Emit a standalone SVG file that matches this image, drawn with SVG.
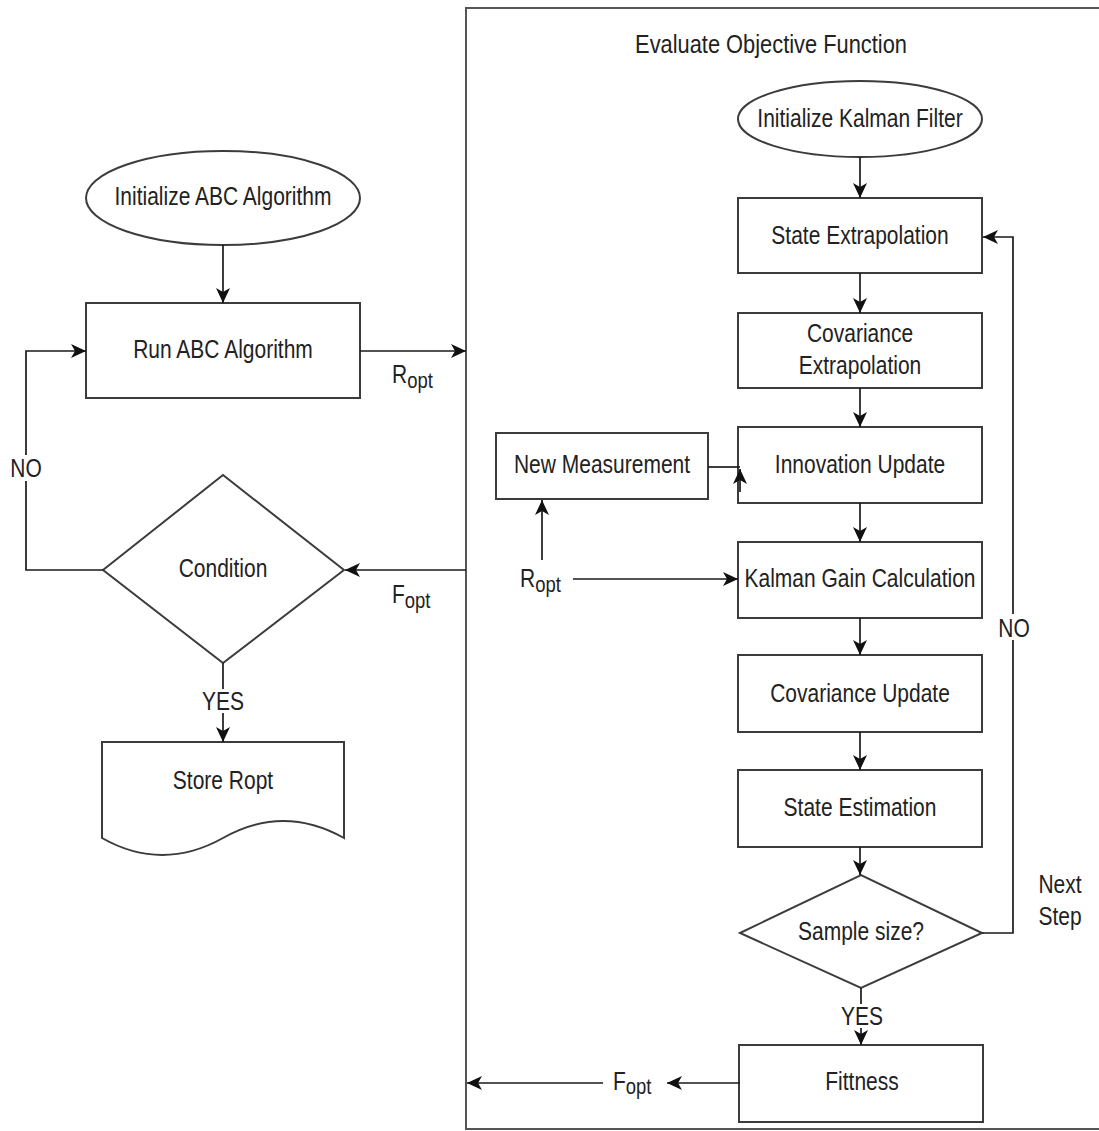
<svg xmlns="http://www.w3.org/2000/svg" width="1099" height="1131" viewBox="0 0 1099 1131">
<style>
.box{fill:#fff;stroke:#3c3c3c;stroke-width:2}
.ln{fill:none;stroke:#1a1a1a;stroke-width:1.7}
.t{font-family:"Liberation Sans",Arial,sans-serif;font-size:25px;fill:#222;text-anchor:middle}
.s{font-family:"Liberation Sans",Arial,sans-serif;font-size:25px;fill:#222}
.sub{font-size:22px}
.bg{fill:#fff;stroke:none}
</style>
<defs>
<marker id="ah" markerUnits="userSpaceOnUse" markerWidth="18" markerHeight="16" refX="16" refY="8" orient="auto" viewBox="0 0 18 16">
<path d="M1,1 L16,8 L1,15 L5,8 z" fill="#111"/>
</marker>
</defs>
<rect width="1099" height="1131" fill="#fff"/>

<g id="panel">
<rect x="466" y="8" width="700" height="1121" fill="none" stroke="#555" stroke-width="2"/>
<text class="t" transform="translate(771,53) scale(0.84,1)" style="font-size:26px">Evaluate Objective Function</text>
</g>

<g id="init-abc">
<ellipse class="box" cx="223" cy="198" rx="137" ry="47"/>
<text class="t" transform="translate(223,205) scale(0.84,1)">Initialize ABC Algorithm</text>
</g>
<g id="run-abc">
<rect class="box" x="86" y="303" width="274" height="95"/>
<text class="t" transform="translate(223,358) scale(0.84,1)">Run ABC Algorithm</text>
</g>
<g id="condition">
<polygon class="box" points="103,570 223,475 344,570 223,663"/>
<text class="t" transform="translate(223,577) scale(0.84,1)">Condition</text>
</g>
<g id="store-ropt">
<path class="box" d="M102,742 H344 V838 Q283,804 223,838 Q162,872 102,838 Z"/>
<text class="t" transform="translate(223,789) scale(0.84,1)">Store Ropt</text>
</g>

<g id="init-kalman">
<ellipse class="box" cx="860" cy="119" rx="122" ry="38"/>
<text class="t" transform="translate(860,127) scale(0.84,1)">Initialize Kalman Filter</text>
</g>
<g id="state-extrapolation">
<rect class="box" x="738" y="198" width="244" height="75"/>
<text class="t" transform="translate(860,244) scale(0.84,1)">State Extrapolation</text>
</g>
<g id="covariance-extrapolation">
<rect class="box" x="738" y="313" width="244" height="75"/>
<text class="t" transform="translate(860,342) scale(0.84,1)">Covariance</text>
<text class="t" transform="translate(860,374) scale(0.84,1)">Extrapolation</text>
</g>
<g id="new-measurement">
<rect class="box" x="496" y="433" width="212" height="66"/>
<text class="t" transform="translate(602,473) scale(0.84,1)">New Measurement</text>
</g>
<g id="innovation-update">
<rect class="box" x="738" y="427" width="244" height="76"/>
<text class="t" transform="translate(860,473) scale(0.84,1)">Innovation Update</text>
</g>
<g id="kalman-gain">
<rect class="box" x="738" y="542" width="244" height="76"/>
<text class="t" transform="translate(860,587) scale(0.84,1)">Kalman Gain Calculation</text>
</g>
<g id="covariance-update">
<rect class="box" x="738" y="655" width="244" height="77"/>
<text class="t" transform="translate(860,702) scale(0.84,1)">Covariance Update</text>
</g>
<g id="state-estimation">
<rect class="box" x="738" y="770" width="244" height="77"/>
<text class="t" transform="translate(860,816) scale(0.84,1)">State Estimation</text>
</g>
<g id="sample-size">
<polygon class="box" points="740,933 861,875 982,933 861,988"/>
<text class="t" transform="translate(861,940) scale(0.84,1)">Sample size?</text>
</g>
<g id="fittness">
<rect class="box" x="739" y="1045" width="244" height="77"/>
<text class="t" transform="translate(862,1090) scale(0.84,1)">Fittness</text>
</g>

<g id="connectors">
<line class="ln" x1="223" y1="245" x2="223" y2="303" marker-end="url(#ah)"/>
<line class="ln" x1="360" y1="351" x2="466" y2="351" marker-end="url(#ah)"/>
<line class="ln" x1="466" y1="570" x2="345" y2="570" marker-end="url(#ah)"/>
<path class="ln" d="M103,570 H26 V351 H86" marker-end="url(#ah)"/>
<line class="ln" x1="223" y1="663" x2="223" y2="742" marker-end="url(#ah)"/>
<line class="ln" x1="860" y1="157" x2="860" y2="198" marker-end="url(#ah)"/>
<line class="ln" x1="860" y1="273" x2="860" y2="313" marker-end="url(#ah)"/>
<line class="ln" x1="860" y1="388" x2="860" y2="427" marker-end="url(#ah)"/>
<line class="ln" x1="860" y1="503" x2="860" y2="542" marker-end="url(#ah)"/>
<line class="ln" x1="860" y1="618" x2="860" y2="655" marker-end="url(#ah)"/>
<line class="ln" x1="860" y1="732" x2="860" y2="770" marker-end="url(#ah)"/>
<line class="ln" x1="860" y1="847" x2="860" y2="875" marker-end="url(#ah)"/>
<line class="ln" x1="861" y1="988" x2="861" y2="1045" marker-end="url(#ah)"/>
<path class="ln" d="M982,933 H1013 V237 H983" marker-end="url(#ah)"/>
<line class="ln" x1="708" y1="467" x2="740" y2="467"/>
<line class="ln" x1="740" y1="492" x2="740" y2="469" marker-end="url(#ah)"/>
<line class="ln" x1="542" y1="560" x2="542" y2="500" marker-end="url(#ah)"/>
<line class="ln" x1="573" y1="579" x2="738" y2="579" marker-end="url(#ah)"/>
<line class="ln" x1="740" y1="1083" x2="667" y2="1083" marker-end="url(#ah)"/>
<line class="ln" x1="603" y1="1083" x2="467" y2="1083" marker-end="url(#ah)"/>
</g>

<g id="labels">
<rect class="bg" x="10" y="455" width="32" height="26"/>
<text class="t" transform="translate(26,477) scale(0.84,1)">NO</text>
<rect class="bg" x="200" y="689" width="46" height="24"/>
<text class="t" transform="translate(223,710) scale(0.84,1)">YES</text>
<text class="s" transform="translate(392,383) scale(0.84,1)">R<tspan class="sub" dy="5">opt</tspan></text>
<text class="s" transform="translate(392,603) scale(0.84,1)">F<tspan class="sub" dy="5">opt</tspan></text>
<text class="s" transform="translate(520,587) scale(0.84,1)">R<tspan class="sub" dy="5">opt</tspan></text>
<text class="s" transform="translate(613,1090) scale(0.84,1)">F<tspan class="sub" dy="4">opt</tspan></text>
<rect class="bg" x="999" y="614" width="30" height="26"/>
<text class="t" transform="translate(1014,637) scale(0.84,1)">NO</text>
<rect class="bg" x="838" y="1004" width="48" height="24"/>
<text class="t" transform="translate(862,1025) scale(0.84,1)">YES</text>
<text class="t" transform="translate(1060,893) scale(0.84,1)">Next</text>
<text class="t" transform="translate(1060,925) scale(0.84,1)">Step</text>
</g>
</svg>
